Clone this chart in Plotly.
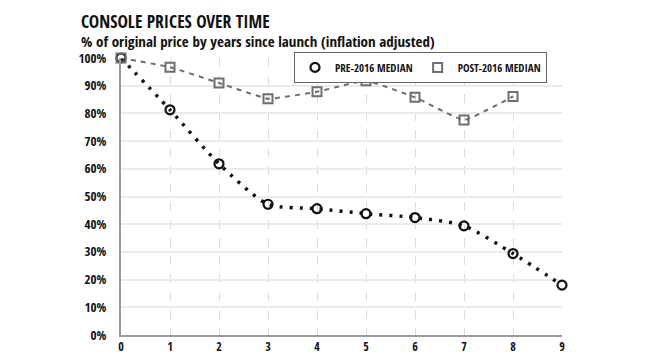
import plotly.graph_objects as go

years_pre = [0, 1, 2, 3, 4, 5, 6, 7, 8, 9]
pre_2016 = [100, 81.3, 61.8, 47.2, 45.6, 43.8, 42.4, 39.4, 29.4, 18.0]
years_post = [0, 1, 2, 3, 4, 5, 6, 7, 8]
post_2016 = [100, 96.7, 91.0, 85.3, 87.8, 91.8, 85.8, 77.6, 86.1]
x_ticks = list(range(10))
y_ticks = [0, 10, 20, 30, 40, 50, 60, 70, 80, 90, 100]
y_labels = [f"{v}%" for v in y_ticks]

FONT = "Open Sans Condensed, Roboto Condensed, sans-serif"
BLACK = "#111111"
GREY = "#6e6e6e"

fig = go.Figure()
fig.add_trace(go.Scatter(
    x=years_pre, y=pre_2016, mode="lines", showlegend=False, hoverinfo="skip",
    line=dict(color=BLACK, width=3.5, dash="3px,7px", shape="spline", smoothing=0.7),
    cliponaxis=False,
))
fig.add_trace(go.Scatter(
    x=years_post, y=post_2016, mode="lines", showlegend=False, hoverinfo="skip",
    line=dict(color=GREY, width=2, dash="5px,5px", shape="spline", smoothing=0.3),
    cliponaxis=False,
))
fig.add_trace(go.Scatter(
    x=years_pre, y=pre_2016, name="PRE-2016 MEDIAN", mode="markers",
    marker=dict(symbol="circle-open", size=9, color=BLACK, line=dict(width=2.2, color=BLACK)),
    cliponaxis=False,
))
fig.add_trace(go.Scatter(
    x=years_post, y=post_2016, name="POST-2016 MEDIAN", mode="markers",
    marker=dict(symbol="square-open", size=9, color=GREY, line=dict(width=2, color=GREY)),
    cliponaxis=False,
))

fig.update_layout(
    width=642, height=348,
    margin=dict(l=113, r=88, t=50, b=21, autoexpand=False),
    paper_bgcolor="white", plot_bgcolor="white",
    font=dict(family=FONT, color=BLACK),
    showlegend=True,
    legend=dict(orientation="h", x=0.966, xanchor="right", y=1.022, yanchor="top",
                bgcolor="white", bordercolor="#666666", borderwidth=1,
                font=dict(size=11, family=FONT, color=BLACK),
                itemwidth=30, tracegroupgap=0),
)
fig.add_annotation(text="<b>CONSOLE PRICES OVER TIME</b>", xref="paper", yref="paper",
                   x=-0.0925, y=1.1795, xanchor="left", yanchor="top", showarrow=False,
                   borderpad=0,
                   font=dict(size=17.5, family=FONT, color=BLACK))
fig.add_annotation(text="<b>% of original price by years since launch (inflation adjusted)</b>",
                   xref="paper", yref="paper",
                   x=-0.0925, y=1.06, xanchor="left", yanchor="middle", showarrow=False,
                   borderpad=0,
                   font=dict(size=15, family=FONT, color=BLACK))

fig.update_xaxes(range=[0, 9], tickvals=x_ticks, showgrid=True,
                 gridcolor="#dcdcdc", griddash="dash", gridwidth=1,
                 showline=True, linecolor="#9a9a9a", linewidth=2, zeroline=False,
                 ticks="", ticklabelstandoff=0, automargin=False,
                 tickfont=dict(size=12, family=FONT, color=BLACK))
fig.update_yaxes(range=[0, 100], tickvals=y_ticks, ticktext=y_labels, showgrid=True,
                 gridcolor="#ebebeb", gridwidth=1.5,
                 showline=True, linecolor="#9a9a9a", linewidth=2, zeroline=False,
                 ticks="", ticklabelstandoff=10, automargin=False,
                 tickfont=dict(size=13, family=FONT, color=BLACK))

fig.write_html("out.html")
